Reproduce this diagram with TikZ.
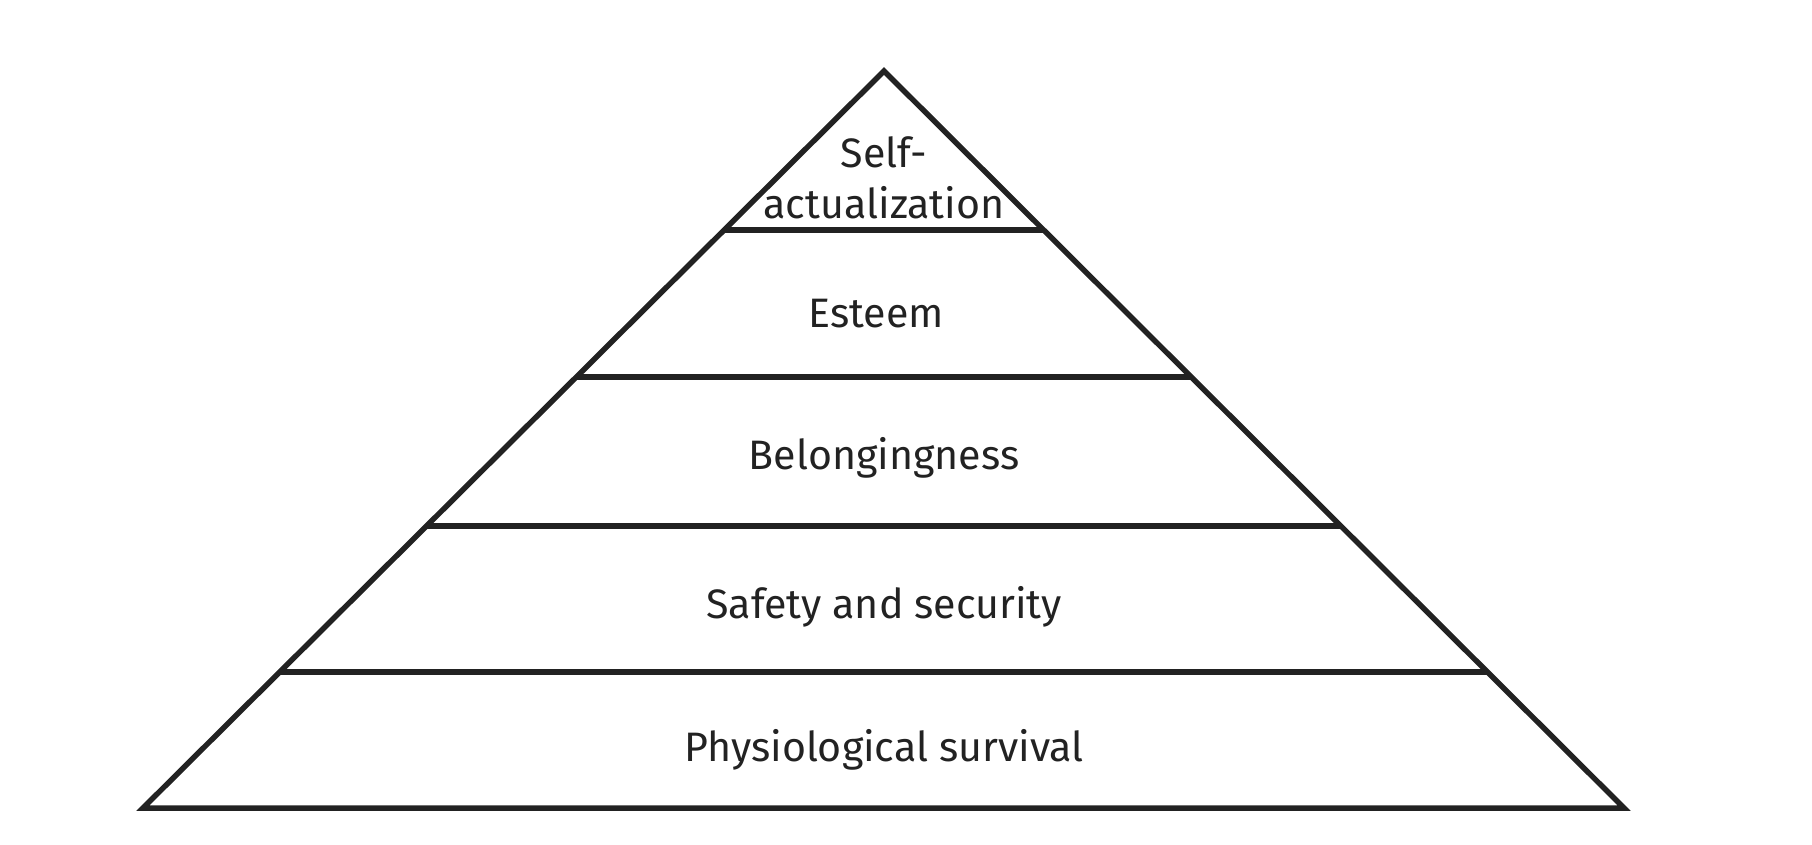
\documentclass[tikz,border=0pt]{standalone}
\usepackage{fontspec}
\setmainfont{Fira Sans}
\definecolor{ink}{HTML}{222222}
\begin{document}
\begin{tikzpicture}[x=0.01cm,y=-0.01cm,
  edge/.style={draw=ink,line width=1.55pt,line join=miter},
  tier/.style={draw=ink,line width=1.75pt},
  lbl/.style={text=ink,font=\fontsize{11.7}{14.5}\selectfont,align=center,inner sep=0pt}]
\useasboundingbox (0,0) rectangle (1812,844);
\coordinate (apex) at (884,71);
\coordinate (bl) at (143,808);
\coordinate (br) at (1624,808);
\draw[edge] (apex) -- (bl) -- (br) -- cycle;
\foreach \y/\n in {230/a,377/b,526/c,672/d}{
  \pgfmathsetmacro{\dx}{(\y-71)*1.00543}
  \coordinate (\n l) at ({884-\dx},\y);
  \coordinate (\n r) at ({884+\dx},\y);
  \draw[tier] (\n l) -- (\n r);
}
\node[lbl] (self) at (884,178) {Self-\\actualization};
\node[lbl] (esteem) at (876,314) {Esteem};
\node[lbl] (belong) at (884,458) {Belongingness};
\node[lbl] (safety) at (884,607) {Safety and security};
\node[lbl] (phys) at (884,750) {Physiological survival};
\end{tikzpicture}
\end{document}
